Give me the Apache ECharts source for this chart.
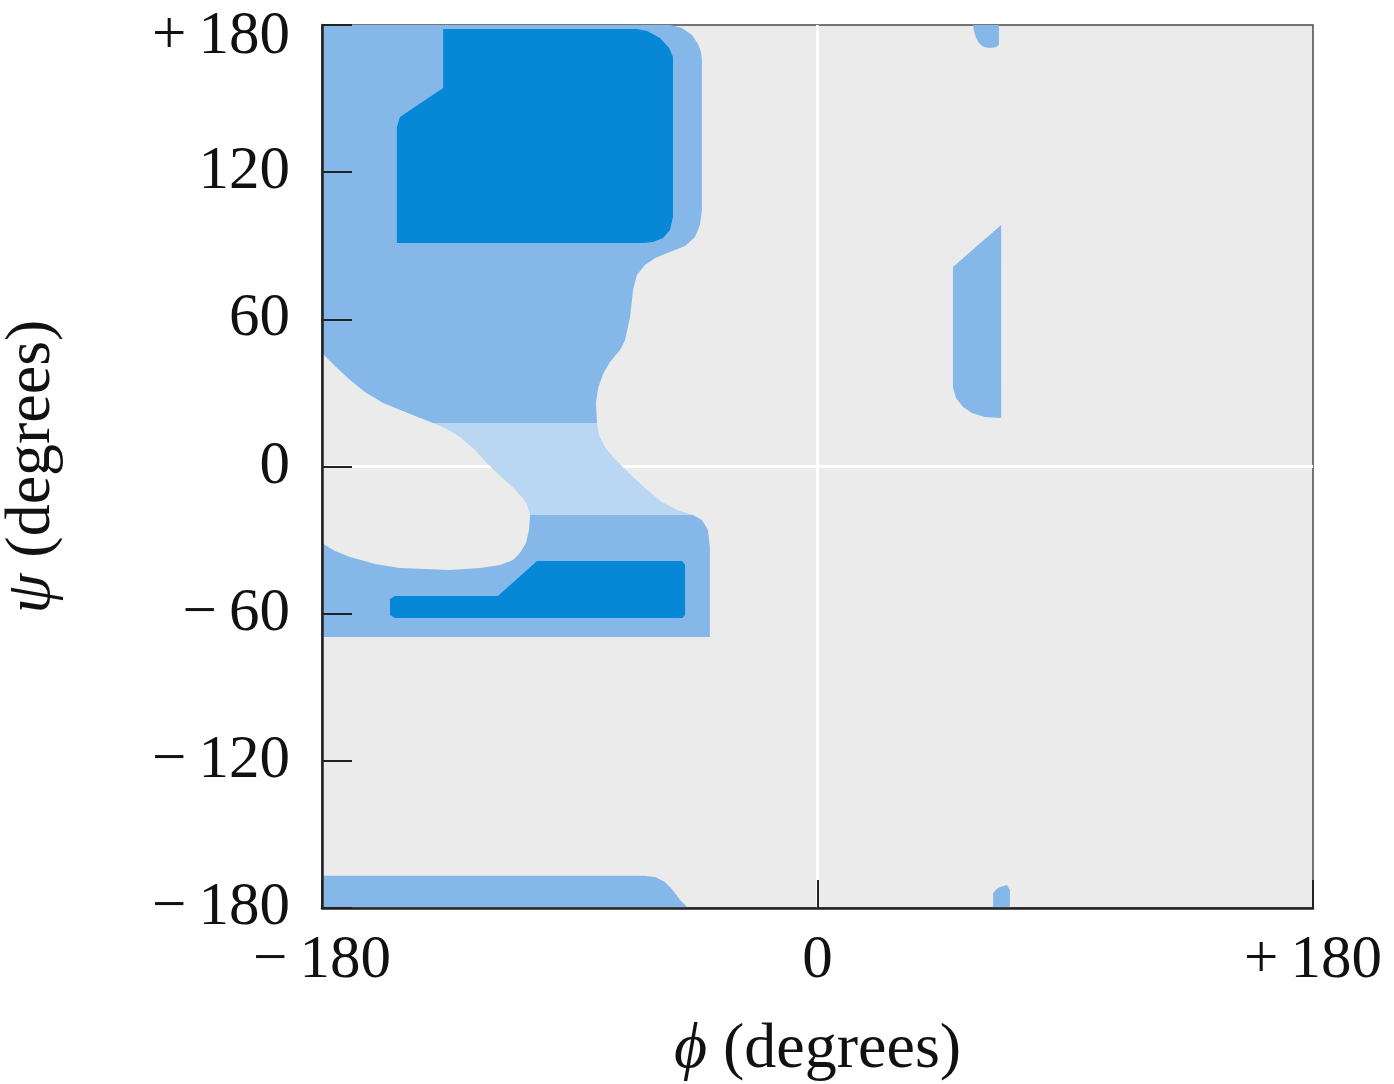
<!DOCTYPE html>
<html>
<head>
<meta charset="utf-8">
<script src="https://cdn.jsdelivr.net/npm/echarts@6/dist/echarts.min.js"></script>
<style>html,body{margin:0;padding:0;background:#fff;}#c{width:1394px;height:1084px;}</style>
</head>
<body>
<div id="c"></div>
<script>
// Axis ticks (degrees) and their labels
const phiTicks = [-180, 0, 180];
const phiLabels = ['\u2212\u2009180', '0', '+\u2009180'];
const psiTicks = [-180, -120, -60, 0, 60, 120, 180];
const psiLabels = ['\u2212\u2009180', '\u2212\u2009120', '\u2212\u200960', '0', '60', '120', '+\u2009180'];

// Region outlines as [phi, psi] vertices in degrees
const allowedUpper = [[-180,180],[-53.6,180],[-49.2,178.8],[-45.6,175.9],[-43.4,172.3],[-42.3,169],[-42,165.7],[-42,104.6],[-42.7,98.5],[-44.5,93.6],[-48.1,89.9],[-53.6,87.5],[-59,85],[-62.7,82.2],[-65.6,78.1],[-67,72],[-68.1,60.9],[-69.9,51.6],[-71.7,47.5],[-75.4,42.6],[-77.9,37.7],[-79.7,32],[-80.5,25.9],[-80.1,17.7],[-139.7,17.7],[-148,21.4],[-157.8,25.9],[-164.4,30.4],[-169.8,35.3],[-175.3,41],[-180,46.3]];
const outerBridge = [[-139.7,17.7],[-80.1,17.7],[-79.4,12.8],[-77.2,7.9],[-74.3,3.9],[-70.7,-0.2],[-67,-4.3],[-61.9,-9.6],[-56.5,-14.5],[-51,-17.7],[-45.2,-19.8],[-104.4,-19.8],[-105.5,-15.5],[-107.3,-12.5],[-110.6,-8.6],[-115.3,-3.9],[-120.1,1.4],[-124.4,6.7],[-129.9,12],[-135,15.5]];
const allowedLower = [[-104.4,-19.8],[-45.2,-19.8],[-42,-21.8],[-39.8,-25.9],[-39.1,-32.8],[-39.1,-69.5],[-180,-69.5],[-180,-31.2],[-175.3,-34.5],[-169.8,-36.9],[-160.7,-39.7],[-151.7,-41.4],[-133.5,-42.2],[-122.6,-41.4],[-115.3,-40.2],[-110.6,-38.1],[-108.1,-35.3],[-105.9,-31.2],[-104.8,-25.9]];
const allowedBottom = [[-180,-180],[-180,-166.9],[-63.4,-166.9],[-59,-167.4],[-55.4,-169.4],[-52.9,-172.3],[-49.9,-176.7],[-47,-180]];
const betaCore = [[-136,178.4],[-65.6,178.4],[-61.9,177.6],[-57.2,174.7],[-53.9,170.6],[-52.5,167],[-52.5,101.7],[-53.6,96.4],[-56.1,93.2],[-59.8,91.5],[-63.4,91.1],[-152.8,91.1],[-152.8,138.4],[-151.7,142.5],[-136,154.3]];
const alphaCore = [[-101.9,-38.5],[-49.2,-38.5],[-48.1,-40.2],[-48.1,-60.5],[-49.2,-61.8],[-153.5,-61.8],[-155.3,-60.5],[-155.3,-54],[-153.5,-52.8],[-116.1,-52.8]];
const leftHandTop = [[56.5,180],[65.9,180],[65.9,171.8],[64.8,170.9],[62.6,170.6],[60.4,171],[58.6,172.7],[57.5,175.1],[56.8,177.9]];
const leftHandMid = [[66.7,98.5],[49.2,81.3],[49.2,32.4],[50.3,27.9],[52.9,24.3],[56.1,21.8],[60.8,20.2],[66.7,19.8]];
const leftHandBottom = [[63.8,-180],[63.8,-173.9],[65.2,-172.2],[66.3,-171.4],[68.8,-170.6],[69.9,-172.7],[69.9,-180]];

const COLORS = { full: '#85b8e8', outer: '#b9d6f3', core: '#0788d6' };
const regions = [
  { pts: allowedUpper, c: 'full' },
  { pts: outerBridge, c: 'outer' },
  { pts: allowedLower, c: 'full' },
  { pts: allowedBottom, c: 'full' },
  { pts: leftHandTop, c: 'full' },
  { pts: leftHandMid, c: 'full' },
  { pts: leftHandBottom, c: 'full' },
  { pts: betaCore, c: 'core' },
  { pts: alphaCore, c: 'core' }
];
// Reference lines at phi = 0 and psi = 0
const refLines = [[[0,-180],[0,180]], [[-180,0],[180,0]]];

const FONT = 'Liberation Serif';
const chart = echarts.init(document.getElementById('c'), null, { renderer: 'canvas' });

chart.setOption({
  animation: false,
  backgroundColor: '#ffffff',
  grid: { left: 322, top: 25, right: 81, bottom: 176, containLabel: false, outerBoundsMode: 'none',
    show: true, backgroundColor: '#ebebeb', borderColor: '#4a4a4a', borderWidth: 1.5 },
  xAxis: {
    type: 'value', min: -180, max: 180, interval: 180, z: 10,
    axisLine: { show: true, onZero: false, lineStyle: { color: '#222', width: 2.5 } },
    axisTick: { show: true, inside: true, length: 28, lineStyle: { color: '#222', width: 2 } },
    splitLine: { show: false },
    axisLabel: { margin: 22, fontFamily: FONT, fontSize: 61, color: '#111',
      formatter: v => phiLabels[phiTicks.indexOf(v)] },
    name: '{i|\u03d5} (degrees)', nameLocation: 'middle', nameGap: 110,
    nameTextStyle: { fontFamily: FONT, fontSize: 64, color: '#111',
      rich: { i: { fontFamily: FONT, fontSize: 64, fontStyle: 'italic', color: '#111' } } }
  },
  yAxis: {
    type: 'value', min: -180, max: 180, interval: 60, z: 10,
    axisLine: { show: true, onZero: false, lineStyle: { color: '#222', width: 2.5 } },
    axisTick: { show: true, inside: true, length: 30, lineStyle: { color: '#222', width: 2 } },
    splitLine: { show: false },
    axisLabel: { margin: 32, fontFamily: FONT, fontSize: 61, color: '#111',
      formatter: v => v === 180 ? '{t|' + psiLabels[psiTicks.indexOf(v)] + '}' : psiLabels[psiTicks.indexOf(v)],
      rich: { t: { fontFamily: FONT, fontSize: 61, color: '#111', padding: [24, 0, 0, 0] } } },
    name: '{i|\u03c8} (degrees)', nameLocation: 'middle', nameRotate: 90, nameGap: 258,
    nameTextStyle: { fontFamily: FONT, fontSize: 64, color: '#111',
      rich: { i: { fontFamily: FONT, fontSize: 64, fontStyle: 'italic', color: '#111' } } }
  },
  series: [
    {
      type: 'custom', z: 1, silent: true, clip: true,
      data: refLines.map((l, i) => [i]),
      renderItem: (params, api) => {
        const l = refLines[params.dataIndex];
        const a = api.coord(l[0]), b = api.coord(l[1]);
        return { type: 'line', shape: { x1: a[0], y1: a[1], x2: b[0], y2: b[1] },
          style: { stroke: '#ffffff', lineWidth: 3 } };
      }
    },
    {
      type: 'custom', z: 2, silent: true, clip: true,
      data: regions.map((r, i) => [i]),
      renderItem: (params, api) => {
        const r = regions[params.dataIndex];
        return { type: 'polygon', shape: { points: r.pts.map(p => api.coord(p)) },
          style: { fill: COLORS[r.c], stroke: null } };
      }
    }
  ]
});
</script>
</body>
</html>
